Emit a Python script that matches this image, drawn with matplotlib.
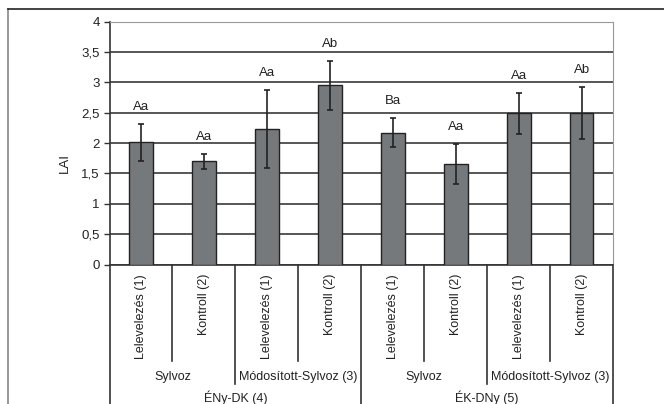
import numpy as np
import matplotlib
matplotlib.use("Agg")
import matplotlib.pyplot as plt
from matplotlib.ticker import FuncFormatter, MultipleLocator
from matplotlib.transforms import blended_transform_factory
from matplotlib.lines import Line2D

plt.rcParams['font.family'] = ['Liberation Sans', 'DejaVu Sans']
plt.rcParams['font.size'] = 9

# -------------------------
# DATA
# -------------------------
categories = ["Lelevelezés (1)", "Kontroll (2)", "Lelevelezés (1)", "Kontroll (2)",
              "Lelevelezés (1)", "Kontroll (2)", "Lelevelezés (1)", "Kontroll (2)"]
systems = ["Sylvoz", "Módosított-Sylvoz (3)", "Sylvoz", "Módosított-Sylvoz (3)"]
rows = ["ÉNy-DK (4)", "ÉK-DNy (5)"]
lai = [2.01, 1.70, 2.23, 2.95, 2.17, 1.66, 2.49, 2.49]
err = [0.31, 0.12, 0.64, 0.40, 0.24, 0.33, 0.34, 0.43]
letters = ["Aa", "Aa", "Aa", "Ab", "Ba", "Aa", "Aa", "Ab"]

W, H = 664, 404
fig = plt.figure(figsize=(W / 100, H / 100), dpi=100)
ax = fig.add_axes([109.5 / W, 1 - 264.5 / H, 503.5 / W, 242.8 / H])

x = np.arange(len(lai))
ax.bar(x, lai, width=0.38, color="#76797b", edgecolor="#222222", linewidth=1,
       yerr=err, capsize=2.5, error_kw=dict(ecolor="#222222", elinewidth=1.2, capthick=1.2),
       zorder=3)

for xi, v, e, t in zip(x, lai, err, letters):
    ax.annotate(t, (xi, v + e), xytext=(0, 8), textcoords="offset points",
                ha="center", va="bottom", fontsize=9.5, color="#222222")

ax.set_xlim(-0.5, len(lai) - 0.5)
ax.set_ylim(0, 4)
ax.yaxis.set_major_locator(MultipleLocator(0.5))
ax.yaxis.set_major_formatter(FuncFormatter(lambda v, p: f"{v:g}".replace(".", ",")))
ax.grid(axis="y", color="#3a3a3a", linewidth=1.2, zorder=0)
ax.set_axisbelow(True)
ax.set_xticks([])
ax.tick_params(axis="y", direction="out", length=4, width=1, color="#333333", pad=3,
               labelsize=9.5, labelcolor="#222222")
ax.spines["left"].set_color("#333333")
ax.spines["bottom"].set_color("#333333")
ax.spines["left"].set_linewidth(1.2)
ax.spines["bottom"].set_linewidth(1.2)
ax.spines["top"].set_color("#999999")
ax.spines["right"].set_color("#999999")

ax.text(65 / W, 1 - 163 / H, "LAI", transform=fig.transFigure, rotation=90,
        ha="center", va="center", fontsize=9.5, color="#222222")

# -------------------------
# MULTI-LEVEL X AXIS
# -------------------------
tr = blended_transform_factory(ax.transData, fig.transFigure)
y_top = 1 - 264.5 / H
for b in np.arange(-0.5, len(lai) + 0.5, 1):
    k = int(b + 0.5)
    if k in (0, 4, 8):
        yb = 0
    elif k % 2 == 0:
        yb = 1 - 384 / H
    else:
        yb = 1 - 361 / H
    ax.add_line(Line2D([b, b], [y_top, yb], transform=tr, color="#333333",
                       linewidth=1.2, clip_on=False))

for xi, c in zip(x, categories):
    ax.text(xi, 1 - 274 / H, c, transform=tr, rotation=90, ha="center", va="top",
            fontsize=9, color="#222222")
for i, s in enumerate(systems):
    ax.text(2 * i + 0.5, 1 - 377 / H, s, transform=tr, ha="center", va="center",
            fontsize=9, color="#222222")
for i, r in enumerate(rows):
    ax.text(4 * i + 1.5, 1 - 398 / H, r, transform=tr, ha="center", va="center",
            fontsize=9, color="#222222")

# figure border
fig.add_artist(Line2D([8 / W, 8 / W], [0, 1 - 9 / H], transform=fig.transFigure,
                      color="#888888", linewidth=1.2))
fig.add_artist(Line2D([8 / W, 1], [1 - 9 / H, 1 - 9 / H], transform=fig.transFigure,
                      color="#222222", linewidth=1.2))

fig.savefig("out.png", dpi=100)
